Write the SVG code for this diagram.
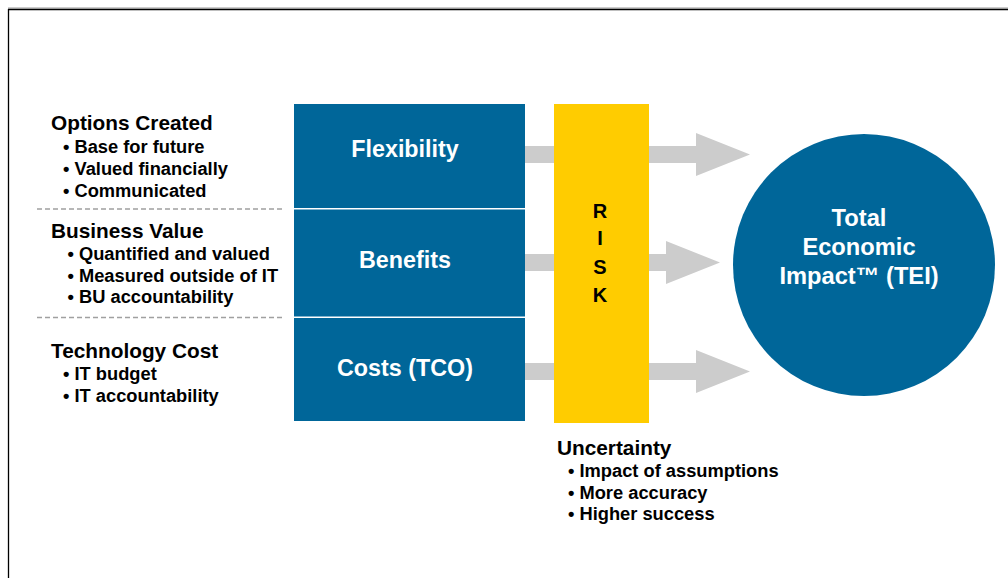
<svg xmlns="http://www.w3.org/2000/svg" width="1008" height="578" viewBox="0 0 1008 578">
  <style>
    text { font-family: "Liberation Sans", Arial, sans-serif; font-weight: bold; }
    .hd { font-size: 20.8px; fill: #000; }
    .bl { font-size: 18.3px; fill: #000; }
    .bx { font-size: 23.3px; fill: #fff; text-anchor: middle; }
    .ci { font-size: 23.7px; fill: #fff; text-anchor: middle; }
    .rk { font-size: 20px; fill: #000; text-anchor: middle; }
    .dash { stroke: #a0a0a0; stroke-width: 1.3; stroke-dasharray: 5 3; fill: none; }
    .arr { fill: #cccccc; }
  </style>
  <rect width="1008" height="578" fill="#fff"/>
  <!-- frame -->
  <g id="frame">
    <line x1="8" y1="8" x2="1008" y2="8" stroke="#999" stroke-width="1"/>
    <line x1="8" y1="9.5" x2="1008" y2="9.5" stroke="#000" stroke-width="1.3"/>
    <line x1="8.5" y1="9" x2="8.5" y2="578" stroke="#000" stroke-width="1.3"/>
  </g>
  <!-- connectors -->
  <g id="connectors">
    <polygon class="arr" points="525,146 696,146 696,133 750,154.5 696,176 696,163 525,163"/>
    <polygon class="arr" points="525,254 666,254 666,241 720,262.5 666,284 666,271 525,271"/>
    <polygon class="arr" points="525,363 696,363 696,350 750,371.5 696,393 696,380 525,380"/>
  </g>
  <!-- left labels -->
  <g id="options">
    <text class="hd" x="51" y="130">Options Created</text>
    <text class="bl" x="63" y="153">• Base for future</text>
    <text class="bl" x="63" y="175">• Valued financially</text>
    <text class="bl" x="63" y="197">• Communicated</text>
  </g>
  <line class="dash" x1="37" y1="209" x2="282" y2="209"/>
  <g id="business">
    <text class="hd" x="51" y="238">Business Value</text>
    <text class="bl" x="67.5" y="260">• Quantified and valued</text>
    <text class="bl" x="67.5" y="282">• Measured outside of IT</text>
    <text class="bl" x="67.5" y="303">• BU accountability</text>
  </g>
  <line class="dash" x1="37" y1="317.5" x2="282" y2="317.5"/>
  <g id="technology">
    <text class="hd" x="51" y="358">Technology Cost</text>
    <text class="bl" x="63" y="380">• IT budget</text>
    <text class="bl" x="63" y="402">• IT accountability</text>
  </g>
  <!-- blue boxes -->
  <g id="flexibility">
    <rect x="294" y="104" width="231" height="104" fill="#006699"/>
    <text class="bx" x="405" y="157">Flexibility</text>
  </g>
  <g id="benefits">
    <rect x="294" y="209.5" width="231" height="107" fill="#006699"/>
    <text class="bx" x="405" y="268">Benefits</text>
  </g>
  <g id="costs">
    <rect x="294" y="318" width="231" height="103" fill="#006699"/>
    <text class="bx" x="405" y="376">Costs (TCO)</text>
  </g>
  <!-- risk -->
  <g id="risk">
    <rect x="554" y="104" width="95" height="319" fill="#ffcc00"/>
    <text class="rk" x="600" y="218">R</text>
    <text class="rk" x="600" y="245">I</text>
    <text class="rk" x="600" y="274">S</text>
    <text class="rk" x="600" y="302">K</text>
  </g>
  <g id="uncertainty">
    <text class="hd" x="557" y="455">Uncertainty</text>
    <text class="bl" x="568" y="477">• Impact of assumptions</text>
    <text class="bl" x="568" y="499">• More accuracy</text>
    <text class="bl" x="568" y="520">• Higher success</text>
  </g>
  <!-- TEI circle -->
  <g id="tei">
    <circle cx="864" cy="265" r="131" fill="#006699"/>
    <text class="ci" x="859" y="226">Total</text>
    <text class="ci" x="859" y="255">Economic</text>
    <text class="ci" x="859" y="284">Impact™ (TEI)</text>
  </g>
</svg>
